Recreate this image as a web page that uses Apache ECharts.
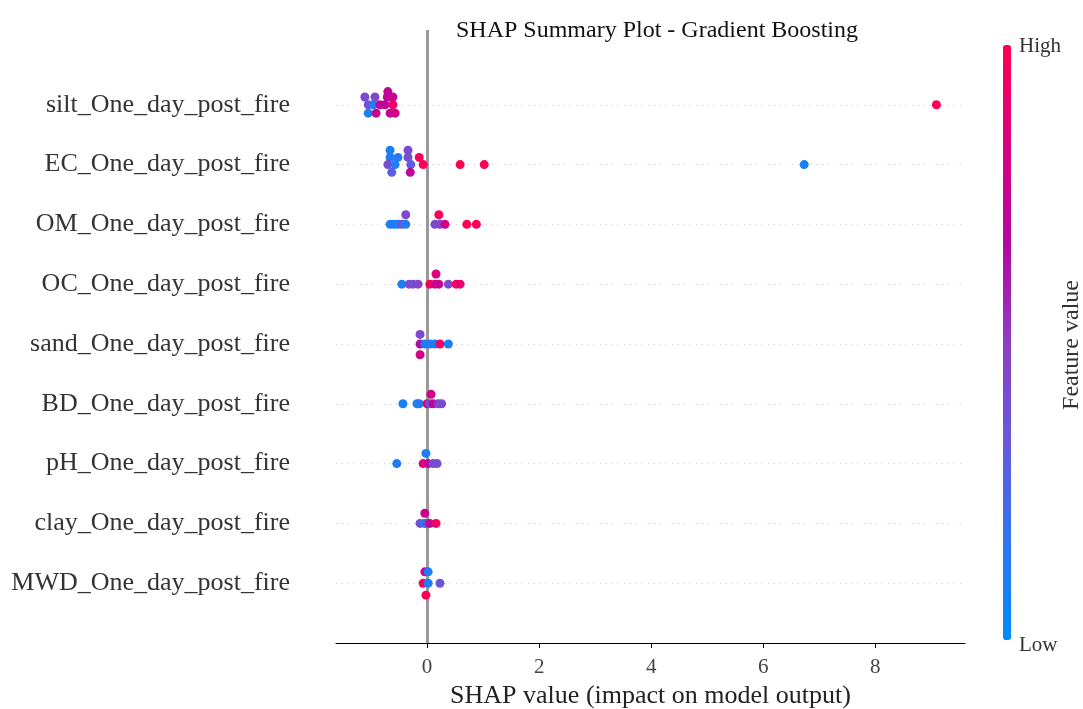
<!DOCTYPE html>
<html>
<head>
<meta charset="utf-8">
<script src="https://cdn.jsdelivr.net/npm/echarts@6/dist/echarts.min.js"></script>
<style>
html,body{margin:0;padding:0;background:#fff;}
#chart{width:1083px;height:709px;}
</style>
</head>
<body>
<div id="chart"></div>
<script>
// Feature names, bottom (row 0) to top (row 8)
const features = [
  'MWD_One_day_post_fire',
  'clay_One_day_post_fire',
  'pH_One_day_post_fire',
  'BD_One_day_post_fire',
  'sand_One_day_post_fire',
  'OC_One_day_post_fire',
  'OM_One_day_post_fire',
  'EC_One_day_post_fire',
  'silt_One_day_post_fire'
];
const xTicks = [0, 2, 4, 6, 8];

// Each point: [SHAP value, beeswarm offset (rows), normalized feature value]
const pointsMWD = [[-0.04,0.19,0.75],[0.02,0.19,0.10],[-0.07,0,0.95],[0.02,0,0.10],[0.23,0,0.35],[-0.02,-0.20,0.98]];
const pointsClay = [[-0.04,0.17,0.75],[-0.125,0,0.40],[-0.05,0,0.10],[0.0,0,0.42],[0.05,0,0.70],[0.16,0,0.95]];
const pointsPH = [[-0.02,0.17,0.10],[-0.54,0,0.10],[-0.07,0,0.85],[0.02,0,0.70],[0.11,0,0.40],[0.18,0,0.42]];
const pointsBD = [[0.07,0.16,0.80],[-0.43,0,0.10],[-0.18,0,0.12],[-0.14,0,0.12],[0.0,0,0.90],[0.05,0,0.40],[0.11,0,0.70],[0.20,0,0.45],[0.26,0,0.42]];
const pointsSand = [[-0.125,0.16,0.42],[-0.125,0,0.65],[-0.04,0,0.10],[0.05,0,0.12],[0.14,0,0.10],[0.23,0,0.95],[0.38,0,0.10],[-0.125,-0.18,0.80]];
const pointsOC = [[0.16,0.17,0.85],[-0.45,0,0.10],[-0.32,0,0.42],[-0.25,0,0.42],[-0.16,0,0.45],[0.05,0,0.95],[0.14,0,0.80],[0.21,0,0.75],[0.38,0,0.42],[0.52,0,0.95],[0.59,0,0.90]];
const pointsOM = [[-0.38,0.16,0.42],[0.21,0.16,0.98],[-0.66,0,0.10],[-0.59,0,0.10],[-0.52,0,0.12],[-0.45,0,0.35],[-0.38,0,0.12],[0.14,0,0.42],[0.23,0,0.45],[0.32,0,0.80],[0.71,0,1.0],[0.88,0,0.98]];
const pointsEC = [[-0.66,0.24,0.10],[-0.34,0.24,0.42],[-0.66,0.12,0.12],[-0.52,0.12,0.15],[-0.34,0.12,0.40],[-0.14,0.12,0.95],[-0.70,0,0.40],[-0.57,0,0.12],[-0.29,0,0.30],[-0.07,0,0.98],[0.59,0,1.0],[1.02,0,1.0],[-0.63,-0.13,0.30],[-0.30,-0.13,0.70],[6.73,0,0.08]];
const pointsSilt = [[-0.70,0.22,0.72],[-1.11,0.13,0.42],[-0.93,0.13,0.45],[-0.71,0.13,0.70],[-0.61,0.13,0.75],[-1.05,0,0.40],[-0.96,0,0.12],[-0.84,0,0.72],[-0.75,0,0.70],[-0.61,0,0.95],[-1.05,-0.14,0.08],[-0.91,-0.14,0.75],[-0.66,-0.14,0.72],[-0.57,-0.14,0.80],[9.09,0,1.0]];

const allRows = [pointsMWD, pointsClay, pointsPH, pointsBD, pointsSand, pointsOC, pointsOM, pointsEC, pointsSilt];

const FONT = "'Liberation Serif', 'Times New Roman', serif";
const scatterData = [];
allRows.forEach((rows, i) => {
  rows.forEach(p => scatterData.push([p[0], i + p[1], p[2]]));
});

const chart = echarts.init(document.getElementById('chart'), null, {renderer: 'canvas'});
chart.setOption({
  animation: false,
  backgroundColor: '#ffffff',
  title: {
    text: 'SHAP Summary Plot - Gradient Boosting',
    left: 652, top: 14, textAlign: 'center',
    textStyle: {fontFamily: FONT, fontSize: 24, fontWeight: 'normal', color: '#111'}
  },
  grid: {left: 336, right: 118, top: 30, bottom: 66, containLabel: false, outerBoundsMode: 'none'},
  xAxis: {
    type: 'value', min: -1.625, max: 9.6,
    name: 'SHAP value (impact on model output)',
    nameLocation: 'middle', nameGap: 38,
    nameTextStyle: {fontFamily: FONT, fontSize: 26, color: '#222'},
    axisLine: {show: true, onZero: false, lineStyle: {color: '#000', width: 1.2}},
    axisTick: {show: true, length: 5, lineStyle: {color: '#000'}, customValues: xTicks},
    axisLabel: {fontFamily: FONT, fontSize: 21, color: '#444', margin: 14, customValues: xTicks},
    splitLine: {show: false}
  },
  yAxis: {
    type: 'value', min: -1, max: 9.25,
    axisLine: {show: false},
    axisTick: {show: false},
    splitLine: {show: false},
    axisLabel: {
      fontFamily: FONT, fontSize: 26, color: '#333', margin: 46,
      customValues: features.map((f, i) => i),
      formatter: v => features[Math.round(v)] || ''
    }
  },
  visualMap: {
    type: 'continuous', dimension: 2, min: 0, max: 1,
    orient: 'vertical', left: 1003, top: 45, padding: 0,
    itemWidth: 8, itemHeight: 595, calculable: false, text: null,
    showLabel: false,
    inRange: {color: ['#008bfb', '#2f76f0', '#6658dc', '#8c3fc4', '#b5069f', '#dc0080', '#ff0052']},
    seriesIndex: 0
  },
  graphic: [
    {type: 'text', left: 1019, top: 36, style: {text: 'High', font: '21px ' + FONT, fill: '#333'}},
    {type: 'text', left: 1019, top: 635, style: {text: 'Low', font: '21px ' + FONT, fill: '#333'}},
    {type: 'text', x: 1072, y: 345, rotation: Math.PI / 2,
      style: {text: 'Feature value', font: '24px ' + FONT, fill: '#333', align: 'center', verticalAlign: 'middle'}}
  ],
  series: [
    {
      type: 'scatter', symbolSize: 9, z: 3,
      itemStyle: {opacity: 1},
      data: scatterData,
      markLine: {
        silent: true, symbol: 'none', label: {show: false}, z: 1,
        data: features.map((f, i) => ({yAxis: i, lineStyle: {color: '#cccccc', type: [1, 5], width: 1}}))
          .concat([{xAxis: 0, lineStyle: {color: '#999999', type: 'solid', width: 3}}])
      }
    }
  ]
});
</script>
</body>
</html>
